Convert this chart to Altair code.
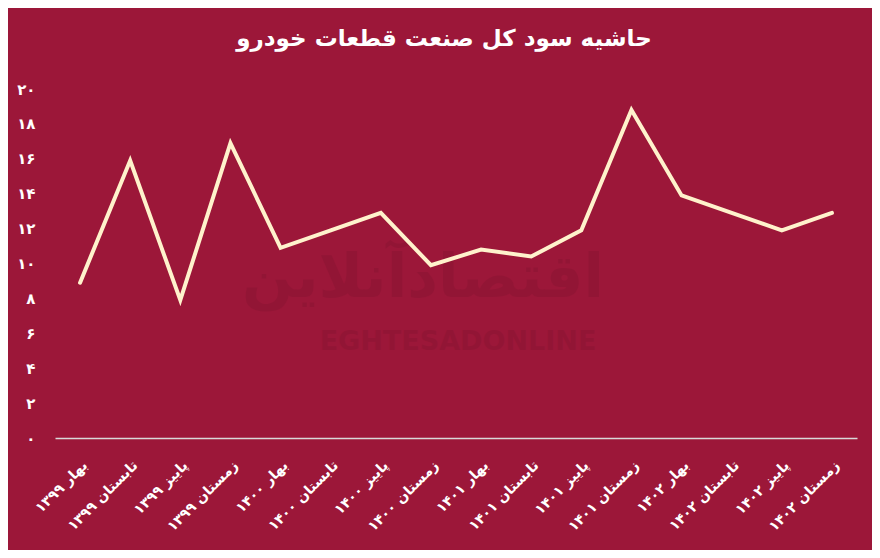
import altair as alt
import pandas as pd

categories = [
    "بهار ۱۳۹۹", "تابستان ۱۳۹۹", "پاییز ۱۳۹۹", "زمستان ۱۳۹۹",
    "بهار ۱۴۰۰", "تابستان ۱۴۰۰", "پاییز ۱۴۰۰", "زمستان ۱۴۰۰",
    "بهار ۱۴۰۱", "تابستان ۱۴۰۱", "پاییز ۱۴۰۱", "زمستان ۱۴۰۱",
    "بهار ۱۴۰۲", "تابستان ۱۴۰۲", "پاییز ۱۴۰۲", "زمستان ۱۴۰۲",
]
values = [8.9, 15.9, 7.9, 16.9, 10.9, 11.9, 12.9, 9.9,
          10.8, 10.4, 11.9, 18.8, 13.9, 12.9, 11.9, 12.9]
y_tick_values = [0, 2, 4, 6, 8, 10, 12, 14, 16, 18, 20]
y_tick_labels = ["۰", "۲", "۴", "۶", "۸", "۱۰", "۱۲", "۱۴", "۱۶", "۱۸", "۲۰"]
title_text = "حاشیه سود کل صنعت قطعات خودرو"

df = pd.DataFrame({"quarter": categories, "value": values})

BG = "#9C1739"
LINE = "#FFF2CC"
FONT = "DejaVu Sans"

label_map = "{" + ",".join(f"'{v}':'{l}'" for v, l in zip(y_tick_values, y_tick_labels)) + "}"

line = alt.Chart(df).mark_line(color=LINE, strokeWidth=4, strokeCap="round", strokeJoin="miter").encode(
    x=alt.X("quarter:N", sort=categories, title=None,
            scale=alt.Scale(type="point", padding=0.5),
            axis=alt.Axis(labelAngle=-45, labelColor="white", labelFont=FONT,
                          labelFontSize=14, labelFontWeight="bold", ticks=False,
                          domainColor="#d9d9d9", domainWidth=1.5, labelPadding=20,
                          labelLimit=300)),
    y=alt.Y("value:Q", title=None,
            scale=alt.Scale(domain=[0, 20], nice=False, zero=True),
            axis=alt.Axis(values=y_tick_values, labelExpr=label_map + "[datum.label]",
                          grid=False, domain=False, ticks=False, labelColor="white",
                          labelFont=FONT, labelFontSize=15, labelFontWeight="bold",
                          labelPadding=20)),
)

wm1 = alt.Chart(pd.DataFrame({"t": ["اقتصادآنلاین"]})).mark_text(
    font=FONT, fontSize=60, fontWeight="bold", color="#000000", opacity=0.06,
    align="center", baseline="middle"
).encode(text="t:N", x=alt.value(368), y=alt.value(190))
wm2 = alt.Chart(pd.DataFrame({"t": ["EGHTESADONLINE"]})).mark_text(
    font=FONT, fontSize=27, fontWeight="bold", color="#000000", opacity=0.06,
    align="center", baseline="middle"
).encode(text="t:N", x=alt.value(403), y=alt.value(253))

chart = alt.layer(wm1, wm2, line).properties(
    width=802, height=349,
    title=alt.TitleParams(title_text, font=FONT, fontSize=23, fontWeight="bold",
                          color="white", anchor="middle", offset=31, dx=-12),
    background=BG,
    padding={"left": 47, "top": 81, "right": 15, "bottom": 112},
    autosize=alt.AutoSizeParams(type="none"),
).configure_view(stroke=None)

chart.save("out.html", embed_options={"renderer": "svg", "actions": False})
